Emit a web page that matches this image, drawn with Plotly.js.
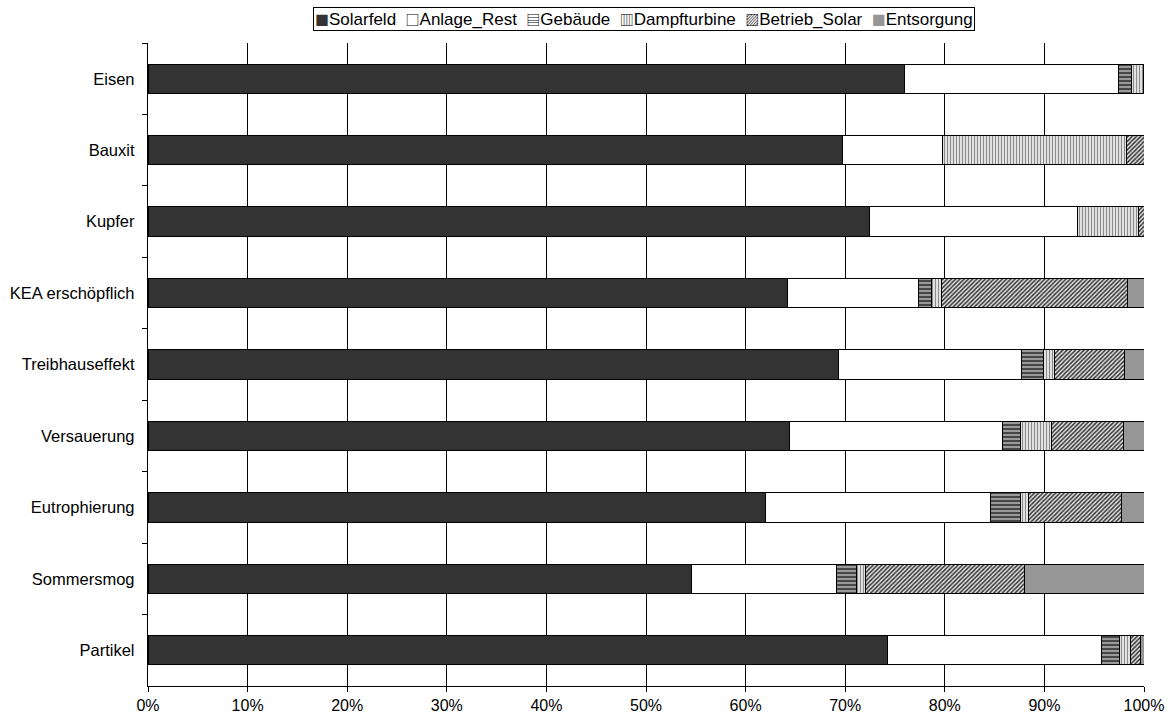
<!DOCTYPE html>
<html>
<head>
<meta charset="utf-8">
<script src="https://cdn.plot.ly/plotly-3.0.1.min.js"></script>
<style>
  html, body { margin: 0; padding: 0; background: #fff; }
  #chart { width: 1168px; height: 722px; }
</style>
</head>
<body>
<div id="chart"></div>
<script>
// Impact categories (top to bottom)
const categories = ["Eisen", "Bauxit", "Kupfer", "KEA erschöpflich", "Treibhauseffekt",
                    "Versauerung", "Eutrophierung", "Sommersmog", "Partikel"];

// Component names, in stacking order
const components = ["Solarfeld", "Anlage_Rest", "Gebäude", "Dampfturbine", "Betrieb_Solar", "Entsorgung"];

// Share of each component per category, in percent
const solarfeld    = [76.0, 69.7, 72.4, 64.2, 69.3, 64.4, 62.0, 54.6, 74.2];
const anlageRest   = [21.4, 10.1, 20.9, 13.2, 18.4, 21.4, 22.6, 14.5, 21.5];
const gebaeude     = [ 1.3,  0.0,  0.0,  1.3,  2.2,  1.8,  3.0,  2.0,  1.8];
const dampfturbine = [ 1.2, 18.4,  6.1,  1.0,  1.1,  3.1,  0.8,  0.9,  1.1];
const betriebSolar = [ 0.1,  1.8,  0.6, 18.6,  7.0,  7.2,  9.3, 16.0,  1.0];
const entsorgung   = [ 0.0,  0.0,  0.0,  1.7,  2.0,  2.1,  2.3, 12.0,  0.4];

const tickVals   = [0, 10, 20, 30, 40, 50, 60, 70, 80, 90, 100];
const tickLabels = ["0%", "10%", "20%", "30%", "40%", "50%", "60%", "70%", "80%", "90%", "100%"];

const edge = { color: "#000", width: 1 };

// Fill styles per component (solid colour or hatch pattern)
const markers = [
  { color: "#333333" },
  { color: "#ffffff" },
  { color: "#8c8c8c",
    pattern: { shape: "-", fgcolor: "#222222", bgcolor: "#9a9a9a", size: 4, solidity: 0.35 } },
  { color: "#d0d0d0",
    pattern: { shape: "|", fgcolor: "#8a8a8a", bgcolor: "#f4f4f4", size: 3, solidity: 0.45 } },
  { color: "#999999",
    pattern: { shape: "/", fgcolor: "#333333", bgcolor: "#e6e6e6", size: 3, solidity: 0.5 } },
  { color: "#969696" }
];

// Small glyphs shown in front of each name in the key box
const keyGlyphs = [
  { ch: "\u25A0", color: "#333333" },
  { ch: "\u25A1", color: "#000000" },
  { ch: "\u25A4", color: "#000000" },
  { ch: "\u25A5", color: "#000000" },
  { ch: "\u25A8", color: "#000000" },
  { ch: "\u25A0", color: "#969696" }
];

const values = [solarfeld, anlageRest, gebaeude, dampfturbine, betriebSolar, entsorgung];

const data = components.map((name, i) => ({
  type: "bar",
  orientation: "h",
  name: name,
  y: categories,
  x: values[i],
  marker: Object.assign({ line: edge }, markers[i]),
  hovertemplate: "%{y}: %{x:.1f}%<extra>" + name + "</extra>"
}));

const fam = "Liberation Sans, Arial, sans-serif";

// Key box text: glyph + name for every component
const keyText = components.map((name, i) =>
  '<span style="font-family:Noto Sans CJK KR;font-size:14px;color:' + keyGlyphs[i].color + '">' +
  keyGlyphs[i].ch + '</span>' + name
).join("  ");

const layout = {
  width: 1168,
  height: 722,
  margin: { l: 148, r: 24, t: 43, b: 36 },
  paper_bgcolor: "#fff",
  plot_bgcolor: "#fff",
  font: { family: fam, size: 16.5, color: "#000" },
  barmode: "stack",
  bargap: 0.59,
  showlegend: false,
  annotations: [{
    xref: "paper", yref: "paper",
    x: 0.8305, y: 1.0, yanchor: "bottom", xanchor: "right",
    yshift: 12,
    showarrow: false,
    text: keyText,
    font: { family: fam, size: 17, color: "#000" },
    bordercolor: "#000",
    borderwidth: 1,
    borderpad: 1,
    bgcolor: "#fff"
  }],
  xaxis: {
    range: [0, 100],
    tickvals: tickVals,
    ticktext: tickLabels,
    ticks: "outside",
    ticklen: 5,
    tickcolor: "#000",
    tickfont: { family: fam, size: 16, color: "#000" },
    showgrid: true,
    gridcolor: "#000",
    gridwidth: 1,
    showline: true,
    linecolor: "#000",
    linewidth: 1,
    zeroline: false,
    fixedrange: true
  },
  yaxis: {
    type: "category",
    autorange: "reversed",
    ticks: "outside",
    tickson: "boundaries",
    ticklen: 5,
    tickcolor: "#000",
    tickfont: { family: fam, size: 16.5, color: "#000" },
    showgrid: false,
    showline: true,
    linecolor: "#000",
    linewidth: 1,
    ticksuffix: "  ",
    fixedrange: true
  }
};

Plotly.newPlot("chart", data, layout, { displayModeBar: false, staticPlot: true });
</script>
</body>
</html>
